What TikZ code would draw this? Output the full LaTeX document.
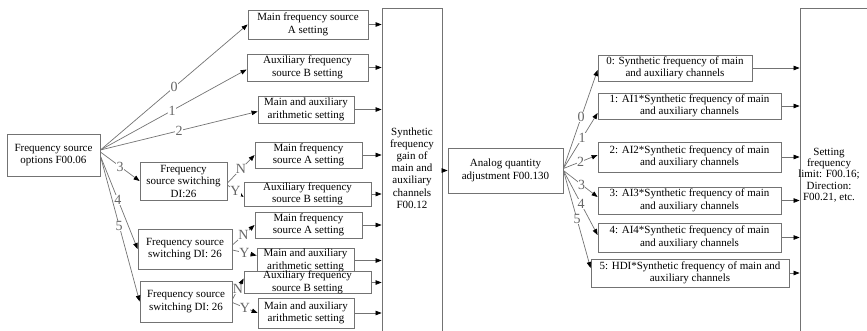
\documentclass[tikz,border=0pt]{standalone}
\usepackage{fontspec}
\setmainfont{Liberation Serif}
\usetikzlibrary{arrows.meta,calc}
\begin{document}
\begin{tikzpicture}[x=1pt,y=-1pt,
  box/.style={draw=black!55, line width=0.8pt, inner sep=0pt, align=center,
    font=\fontsize{11}{12.5}\selectfont, text=black},
  con/.style={draw=black!55, line width=0.7pt,
    -{Triangle[length=6pt,width=4.5pt,color=black]}},
  lab/.style={fill=white, inner sep=0.3pt, font=\fontsize{14}{14}\selectfont, text=black!60},
  txt/.style={inner sep=0pt, align=center, text=black},
]
\useasboundingbox (0,0) rectangle (867,330);
\clip (0,0) rectangle (867,330);

% left
\node[box, minimum width=93, minimum height=42] (src) at (53.5,155) {Frequency source\\options F00.06};

% switching boxes
\node[box, minimum width=87, minimum height=38] (sw1) at (183.5,181) {Frequency\\source switching\\DI:26};
\node[box, minimum width=94, minimum height=40] (sw2) at (185,249) {Frequency source\\switching DI: 26};
\node[box, minimum width=92, minimum height=41] (sw3) at (186,301.5) {Frequency source\\switching DI: 26};

% middle setting boxes
\node[box, minimum width=120, minimum height=29] (m1) at (308,24.5) {Main frequency source\\A setting};
\node[box, minimum width=121, minimum height=27] (m2) at (307.5,67.5) {Auxiliary frequency\\source B setting};
\node[box, minimum width=96, minimum height=27] (m3) at (306,109.5) {Main and auxiliary\\arithmetic setting};
\node[box, minimum width=107, minimum height=26] (m4) at (308.5,155) {Main frequency\\source A setting};
\node[box, minimum width=127, minimum height=24] (m5) at (307.5,194) {Auxiliary frequency\\source B setting};
\node[box, minimum width=107, minimum height=26] (m6) at (308.5,225) {Main frequency\\source A setting};
\node[box, minimum width=97, minimum height=25] (m7) at (305.5,260.5) {Main and auxiliary\\arithmetic setting};
\node[box, fill=white, minimum width=127, minimum height=21] (m8) at (307.5,282.5) {Auxiliary frequency\\source B setting};
\node[box, minimum width=96, minimum height=30] (m9) at (306,313) {Main and auxiliary\\arithmetic setting};

% synthetic big box
\node[box, minimum width=60, minimum height=324] (syn) at (412,170) {};
\node[txt, font=\fontsize{11}{12.2}\selectfont] (syntxt) at (412,168) {Synthetic\\frequency\\gain of\\main and\\auxiliary\\channels\\F00.12};

% analog
\node[box, minimum width=115, minimum height=45] (an) at (505.5,170.5) {Analog quantity\\adjustment F00.130};

% right boxes
\node[box, minimum width=154, minimum height=26] (r0) at (675,68) {0: Synthetic frequency of main\\and auxiliary channels};
\node[box, minimum width=183, minimum height=26] (r1) at (689.5,106) {1: AI1*Synthetic frequency of main\\and auxiliary channels};
\node[box, minimum width=183, minimum height=30] (r2) at (689.5,157) {2: AI2*Synthetic frequency of main\\and auxiliary channels};
\node[box, minimum width=183, minimum height=27] (r3) at (689.5,200.5) {3: AI3*Synthetic frequency of main\\and auxiliary channels};
\node[box, minimum width=183, minimum height=29] (r4) at (689.5,237.5) {4: AI4*Synthetic frequency of main\\and auxiliary channels};
\node[box, minimum width=198, minimum height=28] (r5) at (690,273) {5: HDI*Synthetic frequency of main and\\auxiliary channels};

% setting big box
\node[box, minimum width=80, minimum height=332] (set) at (840,174) {};
\node[txt, font=\fontsize{11}{11.2}\selectfont] (settxt) at (829,175) {Setting\\frequency\\limit: F00.16;\\Direction:\\F00.21, etc.};

% fan from source
\draw[con] ([yshift=5pt]src.east) -- node[lab, pos=0.5] {0} (m1.west);
\draw[con] ([yshift=5pt]src.east) -- node[lab, pos=0.49] {1} ([yshift=-2pt]m2.west);
\draw[con] ([yshift=5pt]src.east) -- node[lab, pos=0.5] {2} ([yshift=-2pt]m3.west);
\draw[con] ([yshift=3pt]src.east) -- node[lab, pos=0.5] {3} (sw1.west);
\draw[con] ([yshift=-1pt]src.east) -- node[lab, pos=0.47] {4} (sw2.west);
\draw[con] ([yshift=-1pt]src.east) -- node[lab, pos=0.48] {5} (sw3.west);

% N / Y
\draw[con] ([yshift=-2pt]sw1.east) -- node[lab, pos=0.5] {N} (m4.west);
\draw[con] ([yshift=-4pt]sw1.east) -- node[lab, pos=0.5] {Y} ([yshift=-3pt]m5.west);
\draw[con] ([yshift=4pt]sw2.east) -- node[lab, pos=0.5] {N} (m6.west);
\draw[con] ([yshift=-1pt]sw2.east) -- node[lab, pos=0.5] {Y} ([yshift=5pt]m7.west);
\draw[con] ([yshift=2pt]sw3.east) -- node[lab, pos=0.5] {N} ([yshift=4pt]m8.west);
\draw[con] ([yshift=-1pt]sw3.east) -- node[lab, pos=0.5] {Y} (m9.west);

% into synthetic
\foreach \m in {m1,m2,m3,m4,m5,m6,m7,m8,m9}
  \draw[con] (\m.east) -- (\m.east -| syn.west);

% synthetic -> analog
\draw[con] (an.west -| syn.east) -- (an.west);

% fan from analog
\draw[con] ([yshift=2pt]an.east) -- node[lab, pos=0.52] {0} ([yshift=-2pt]r0.west);
\draw[con] ([yshift=2pt]an.east) -- node[lab, pos=0.55] {1} ([yshift=-7pt]r1.west);
\draw[con] ([yshift=2pt]an.east) -- node[lab, pos=0.5] {2} ([yshift=2pt]r2.west);
\draw[con] (an.east) -- node[lab, pos=0.53] {3} ([yshift=3.5pt]r3.west);
\draw[con] (an.east) -- node[lab, pos=0.52] {4} ([yshift=2.5pt]r4.west);
\draw[con] (an.east) -- node[lab, pos=0.5] {5} ([yshift=5pt]r5.west);

% into setting
\foreach \r in {r0,r1,r2,r3,r4,r5}
  \draw[con] (\r.east) -- (\r.east -| set.west);
\end{tikzpicture}
\end{document}
